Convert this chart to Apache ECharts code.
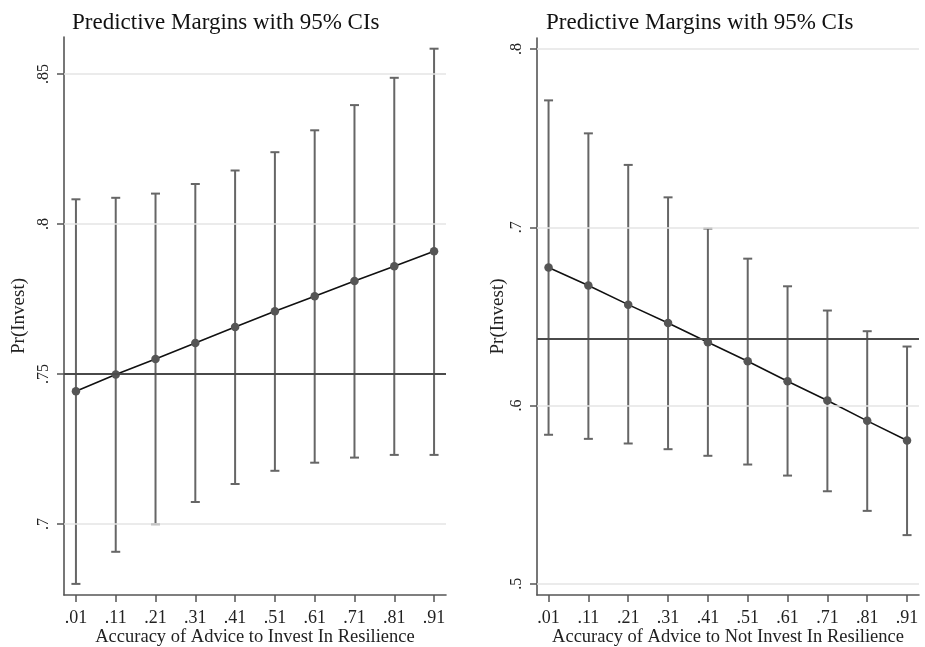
<!DOCTYPE html>
<html>
<head>
<meta charset="utf-8">
<script src="https://cdn.jsdelivr.net/npm/echarts@6/dist/echarts.min.js"></script>
<style>
html,body{margin:0;padding:0;background:#fff;}
#chart{width:925px;height:647px;}
</style>
</head>
<body>
<div id="chart"></div>
<script>
// ---- data ----
const xValues = [0.01, 0.11, 0.21, 0.31, 0.41, 0.51, 0.61, 0.71, 0.81, 0.91];
const xTickLabels = ['.01', '.11', '.21', '.31', '.41', '.51', '.61', '.71', '.81', '.91'];

const leftMargin = [0.7442, 0.7498, 0.7550, 0.7603, 0.7656, 0.7709, 0.7759, 0.7810, 0.7859, 0.7909];
const leftLow    = [0.6800, 0.6907, 0.6999, 0.7073, 0.7133, 0.7177, 0.7204, 0.7221, 0.7230, 0.7230];
const leftHigh   = [0.8082, 0.8087, 0.8101, 0.8133, 0.8178, 0.8239, 0.8312, 0.8396, 0.8487, 0.8584];
const leftRef = 0.75;
const leftYTicks = [0.7, 0.75, 0.8, 0.85];

const rightMargin = [0.6774, 0.6673, 0.6566, 0.6463, 0.6355, 0.6248, 0.6136, 0.6028, 0.5914, 0.5804];
const rightLow    = [0.5836, 0.5813, 0.5787, 0.5755, 0.5718, 0.5669, 0.5607, 0.5519, 0.5409, 0.5273];
const rightHigh   = [0.7712, 0.7527, 0.7350, 0.7168, 0.6993, 0.6824, 0.6669, 0.6533, 0.6417, 0.6331];
const rightRef = 0.6374;
const rightYTicks = [0.5, 0.6, 0.7, 0.8];

const titleText = 'Predictive Margins with 95% CIs';
const leftXName = 'Accuracy of Advice to Invest In Resilience';
const rightXName = 'Accuracy of Advice to Not Invest In Resilience';
const yName = 'Pr(Invest)';

// ---- styles ----
const FONT = 'Liberation Serif';
const AX = '#555555';
const BAR = '#666666';

function yFmt(v) { return String(+v.toFixed(2)).replace(/^0/, ''); }
function xFmt(v) { const i = xValues.indexOf(v); return i >= 0 ? xTickLabels[i] : ''; }

function makeX(gridIndex, name, min, max) {
  return {
    type: 'value', gridIndex, min, max,
    name, nameLocation: 'middle', nameGap: 33, nameMoveOverlap: false,
    nameTextStyle: { fontFamily: FONT, fontSize: 18.5, color: '#222' },
    axisLine: { show: true, onZero: false, lineStyle: { color: AX, width: 1.6 } },
    axisTick: { show: true, length: 7, customValues: xValues, lineStyle: { color: AX, width: 1.5 } },
    axisLabel: { customValues: xValues, formatter: xFmt, margin: 14, fontFamily: FONT, fontSize: 18, color: '#222' },
    splitLine: { show: false }
  };
}
function makeY(gridIndex, min, max, ticks, nameGap) {
  return {
    type: 'value', gridIndex, min, max,
    name: yName, nameLocation: 'middle', nameRotate: 90, nameGap, nameMoveOverlap: false,
    nameTextStyle: { fontFamily: FONT, fontSize: 19, color: '#222' },
    axisLine: { show: true, onZero: false, lineStyle: { color: AX, width: 1.6 } },
    axisTick: { show: true, length: 7, customValues: ticks, lineStyle: { color: AX, width: 1.5 } },
    axisLabel: { customValues: ticks, formatter: yFmt, rotate: 90, margin: 12, fontFamily: FONT, fontSize: 16, color: '#222' },
    splitLine: { show: false }
  };
}

function errData(low, high) { return xValues.map((x, i) => [x, low[i], high[i]]); }
function lineData(m) { return xValues.map((x, i) => [x, m[i]]); }

function renderBar(params, api) {
  const x = api.value(0), lo = api.value(1), hi = api.value(2);
  const a = api.coord([x, hi]), b = api.coord([x, lo]);
  const w = 4.5;
  const st = { stroke: BAR, lineWidth: 2 };
  return {
    type: 'group',
    children: [
      { type: 'line', shape: { x1: a[0], y1: a[1], x2: b[0], y2: b[1] }, style: st },
      { type: 'line', shape: { x1: a[0] - w, y1: a[1], x2: a[0] + w, y2: a[1] }, style: st },
      { type: 'line', shape: { x1: b[0] - w, y1: b[1], x2: b[0] + w, y2: b[1] }, style: st }
    ]
  };
}

function gridSeries(idx, ticks, ref) {
  return [{
    type: 'line', xAxisIndex: idx, yAxisIndex: idx, data: [], z: 1, silent: true,
    markLine: {
      silent: true, symbol: 'none', label: { show: false }, animation: false, precision: 6,
      lineStyle: { color: '#e4e4e4', width: 1.5, type: 'solid' },
      data: ticks.filter(t => Math.abs(t - ref) > 1e-9).map(t => ({ yAxis: t }))
    }
  }, {
    type: 'line', xAxisIndex: idx, yAxisIndex: idx, data: [], z: 2, silent: true,
    markLine: {
      silent: true, symbol: 'none', label: { show: false }, animation: false, precision: 6,
      lineStyle: { color: '#4a4a4a', width: 2, type: 'solid' },
      data: [{ yAxis: ref }]
    }
  }];
}

function mainSeries(idx, m, lo, hi) {
  return [{
    type: 'custom', xAxisIndex: idx, yAxisIndex: idx, z: 3,
    renderItem: renderBar, data: errData(lo, hi), silent: true
  }, {
    type: 'line', xAxisIndex: idx, yAxisIndex: idx, z: 4,
    data: lineData(m), symbol: 'circle', symbolSize: 8.5, showSymbol: true,
    lineStyle: { color: '#111', width: 1.6 },
    itemStyle: { color: '#555' }
  }];
}

const chart = echarts.init(document.getElementById('chart'), null, { renderer: 'canvas' });
chart.setOption({
  animation: false,
  backgroundColor: '#fff',
  title: [
    { text: titleText, left: 67, top: 6, textStyle: { fontFamily: FONT, fontSize: 23, fontWeight: 'normal', color: '#111' } },
    { text: titleText, left: 541, top: 6, textStyle: { fontFamily: FONT, fontSize: 23, fontWeight: 'normal', color: '#111' } }
  ],
  grid: [
    { left: 64, top: 37, width: 382, height: 558, containLabel: false, outerBoundsMode: 'none' },
    { left: 537, top: 38, width: 382, height: 557, containLabel: false, outerBoundsMode: 'none' }
  ],
  xAxis: [makeX(0, leftXName, -0.02, 0.94), makeX(1, rightXName, -0.019, 0.94)],
  yAxis: [makeY(0, 0.6763, 0.8623, leftYTicks, 35), makeY(1, 0.4937, 0.8062, rightYTicks, 29)],
  series: [
    ...gridSeries(0, leftYTicks, leftRef),
    ...gridSeries(1, rightYTicks, rightRef),
    ...mainSeries(0, leftMargin, leftLow, leftHigh),
    ...mainSeries(1, rightMargin, rightLow, rightHigh)
  ]
});
</script>
</body>
</html>
